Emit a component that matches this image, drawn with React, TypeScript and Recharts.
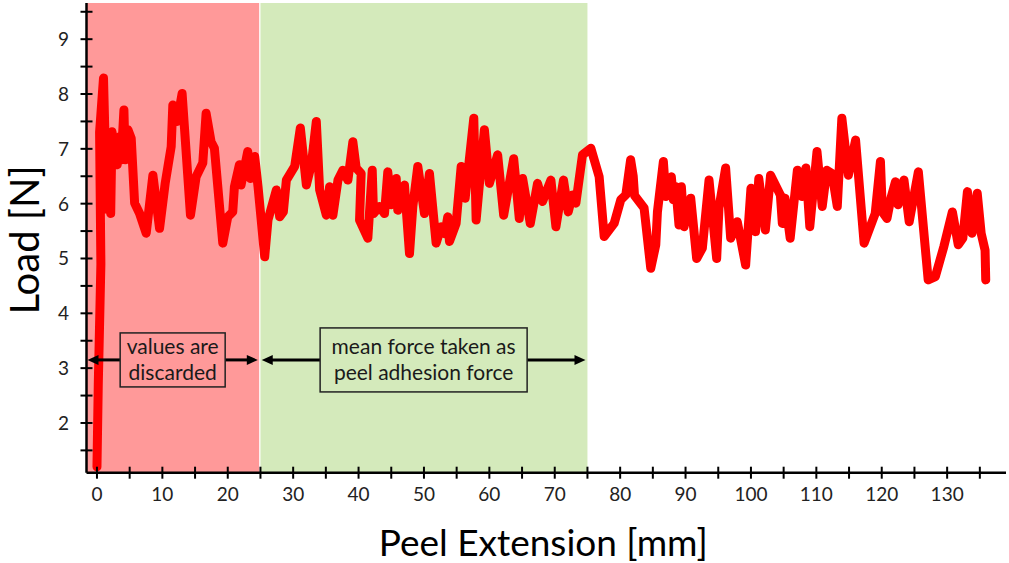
import React from 'react';
import { ComposedChart, Line, XAxis, YAxis, ReferenceArea, ReferenceLine } from 'recharts';

const extension: number[] = [
  0, 0.2, 0.6, 0.4, 1.0, 1.5, 1.9, 2.1, 2.3, 3.1, 3.46, 3.71, 4.12, 4.32, 4.73, 5.24, 5.76, 6.52, 7.53, 8.55,
  9.57, 10.43, 11.35, 11.6, 12.26, 13.02, 14.3, 15.16, 16.18, 16.69, 17.45, 17.96, 19.24, 20.0, 20.76, 21.02,
  21.78, 22.03, 23.05, 23.47, 24.12, 24.63, 25.65, 26.15, 27.43, 27.94, 28.5, 28.96, 30.23, 31.1, 32.02, 32.78,
  33.54, 34.05, 35.07, 35.57, 36.08, 36.85, 37.6, 38.37, 39.13, 39.64, 40.4, 40.15, 41.42, 42.09, 42.29, 43.2,
  43.97, 44.47, 44.99, 45.76, 46.0, 47.02, 47.79, 48.3, 49.06, 50.08, 50.84, 51.86, 52.63, 53.2, 53.64, 53.9,
  54.92, 55.69, 56.3, 57.62, 57.98, 59.24, 60.0, 61.27, 62.19, 63.72, 64.58, 65.09, 66.26, 67.37, 68.14, 69.41,
  70.18, 71.34, 72.06, 72.72, 73.23, 74.24, 75.52, 76.79, 77.56, 79.08, 80.1, 80.87, 81.6, 82.0, 82.2, 83.66,
  84.68, 85.45, 85.7, 86.61, 86.98, 87.83, 88.14, 88.5, 89.0, 89.36, 89.77, 90.79, 91.7, 92.57, 93.59, 94.76,
  95.11, 96.13, 96.9, 97.91, 99.19, 100.0, 100.7, 101.2, 102.2, 103.0, 104.5, 104.8, 105.2, 106.0, 107.1, 107.8,
  108.4, 109.0, 110.1, 110.9, 111.6, 112.4, 113.2, 113.9, 114.9, 116.0, 117.3, 119.0, 119.8, 120.1, 120.8, 121.4,
  122.1, 122.5, 123.4, 124.2, 125.6, 127.1, 128.2, 129.5, 130.8, 131.7, 132.4, 133.1, 133.8, 134.6, 135.2, 135.8,
  135.9,
];

const load: number[] = [
  1.2, 2.7, 4.9, 7.3, 8.29, 5.9, 7.25, 5.82, 7.31, 6.71, 7.22, 6.8, 7.71, 6.8, 7.35, 7.19, 6.01, 5.82, 5.46, 6.52,
  5.55, 6.37, 7.04, 7.8, 7.5, 8.01, 5.79, 6.49, 6.74, 7.65, 7.13, 7.01, 5.28, 5.76, 5.85, 6.31,
  6.71, 6.34, 6.95, 6.46, 6.86, 6.31, 5.03, 5.7, 6.25, 5.76, 5.85, 6.43, 6.68, 7.38, 6.34, 6.71,
  7.5, 6.25, 5.79, 6.31, 5.79, 6.43, 6.61, 6.43, 7.13, 6.65, 6.55, 5.7, 5.37, 6.61, 5.82, 5.95,
  5.82, 6.58, 5.98, 6.46, 5.88, 6.34, 5.09, 5.95, 6.68, 5.82, 6.55, 5.28, 5.58, 5.45, 5.76, 5.31,
  5.64, 6.68, 6.1, 7.56, 5.7, 7.35, 6.37, 6.89, 5.79, 6.82, 5.73, 6.46, 5.64, 6.37, 6.04, 6.43,
  5.58, 6.43, 5.85, 6.16, 6.01, 6.89, 7.01, 6.49, 5.4, 5.64, 6.07, 6.16, 6.8, 6.5, 6.15, 5.92,
  4.82, 5.25, 5.85, 6.77, 6.13, 6.49, 6.07, 6.31, 5.61, 6.31, 5.58, 6.1, 5.0, 5.19, 6.43, 5.0,
  5.92, 6.65, 5.37, 5.67, 4.88, 6.28, 5.49, 6.46, 5.52, 6.52, 6.16, 5.64, 6.1, 5.37, 6.61, 6.13,
  6.65, 5.58, 6.95, 5.95, 6.61, 6.55, 5.95, 7.56, 6.52, 7.16, 5.28, 5.82, 6.77, 5.85, 5.73, 6.1,
  6.4, 5.98, 6.43, 5.67, 6.58, 4.61, 4.67, 5.22, 5.85, 5.25, 5.37, 6.22, 5.46, 6.19, 5.46, 5.15,
  4.61,
];

const xTicks: number[] = [0, 5, 10, 15, 20, 25, 30, 35, 40, 45, 50, 55, 60, 65, 70, 75, 80, 85, 90, 95, 100, 105, 110, 115, 120, 125, 130, 135];
const yTicks: number[] = [1.5, 2, 2.5, 3, 3.5, 4, 4.5, 5, 5.5, 6, 6.5, 7, 7.5, 8, 8.5, 9, 9.5];

const xDomain: [number, number] = [-1.6, 139.0];
const yDomain: [number, number] = [1.093, 9.66];

const discardRange: [number, number] = [-1.6, 24.8];
const meanRange: [number, number] = [25, 75];
const arrowLoad = 3.15;
const discardLabel = ['values are', 'discarded'];
const meanLabel = ['mean force taken as', 'peel adhesion force'];

const data = extension.map((x, i) => ({ x, y: load[i] }));

const FONT = 'Lato, "Open Sans", sans-serif';
const RED_BG = '#FF9999';
const GREEN_BG = '#D4EABB';

const XTick = (props: any) => {
  const { x, y, payload } = props;
  const ay = y - 15;
  const major = payload.value % 10 === 0;
  return (
    <g>
      <line x1={x} x2={x} y1={ay - 6} y2={ay + 6} stroke="#000" strokeWidth={2} />
      {major && (
        <text x={x} y={y} dy="0.71em" textAnchor="middle" fontFamily={FONT} fontSize={19} fill="#222">
          {payload.value}
        </text>
      )}
    </g>
  );
};

const YTick = (props: any) => {
  const { x, y, payload } = props;
  const ax = x + 17.5;
  const major = Number.isInteger(payload.value);
  return (
    <g>
      <line x1={ax - 6} x2={ax + 6} y1={y} y2={y} stroke="#000" strokeWidth={2} />
      {major && (
        <text x={x} y={y} dy="0.36em" textAnchor="end" fontFamily={FONT} fontSize={19} fill="#222">
          {payload.value}
        </text>
      )}
    </g>
  );
};

const makeArrowShape = (lines: string[], boxW: number, boxH: number, fill: string) => (props: any) => {
  const { x1, x2, y1 } = props;
  const y = y1;
  const cx = (x1 + x2) / 2;
  const bl = cx - boxW / 2;
  const br = cx + boxW / 2;
  const ah = 11;
  const aw = 5;
  return (
    <g>
      <line x1={x1 + ah - 1} x2={bl} y1={y} y2={y} stroke="#000" strokeWidth={3} />
      <line x1={br} x2={x2 - ah + 1} y1={y} y2={y} stroke="#000" strokeWidth={3} />
      <polygon points={`${x1},${y} ${x1 + ah},${y - aw} ${x1 + ah},${y + aw}`} fill="#000" />
      <polygon points={`${x2},${y} ${x2 - ah},${y - aw} ${x2 - ah},${y + aw}`} fill="#000" />
      <rect x={bl} y={y - boxH / 2} width={boxW} height={boxH} fill={fill} stroke="#222" strokeWidth={1.5} />
      <text x={cx} y={y - 13} dy="0.35em" textAnchor="middle" fontFamily={FONT} fontSize={21} fill="#1a1a1a">
        {lines[0]}
      </text>
      <text x={cx} y={y + 13} dy="0.35em" textAnchor="middle" fontFamily={FONT} fontSize={21} fill="#1a1a1a">
        {lines[1]}
      </text>
    </g>
  );
};

const XTitle = (props: any) => {
  const vb = props.viewBox || { x: 86.5, y: 472.7, width: 919.5, height: 40 };
  return (
    <text x={vb.x + vb.width / 2 - 3} y={556} textAnchor="middle" fontFamily={FONT} fontSize={37} fill="#000">
      Peel Extension [mm]
    </text>
  );
};

const YTitle = (props: any) => {
  const vb = props.viewBox || { x: 26.5, y: 3, width: 60, height: 469.7 };
  const cy = vb.y + vb.height / 2 + 2;
  const cx = 25;
  return (
    <text x={cx} y={cy} dy="0.35em" textAnchor="middle" transform={`rotate(-90, ${cx}, ${cy})`} fontFamily={FONT} fontSize={40} fill="#000">
      Load [N]
    </text>
  );
};

export default function App() {
  return (
    <div style={{ position: 'absolute', left: 0, top: 0, width: 1009, height: 563, background: '#fff' }}>
      <ComposedChart
        width={1009}
        height={563}
        data={data}
        margin={{ top: 3, right: 3, left: 26.5, bottom: 50.3 }}
      >
        <XAxis
          dataKey="x"
          type="number"
          domain={xDomain}
          ticks={xTicks}
          interval={0}
          allowDataOverflow
          tick={<XTick />}
          tickLine={false}
          tickSize={6}
          tickMargin={9}
          axisLine={{ stroke: '#000', strokeWidth: 2.5 }}
          height={40}
          label={{ content: (p: any) => <XTitle {...p} /> }}
        />
        <YAxis
          type="number"
          domain={yDomain}
          ticks={yTicks}
          interval={0}
          allowDataOverflow
          tick={<YTick />}
          tickLine={false}
          tickSize={6}
          tickMargin={11.5}
          axisLine={{ stroke: '#000', strokeWidth: 2.5 }}
          width={60}
          label={{ content: (p: any) => <YTitle {...p} /> }}
        />
        <ReferenceArea x1={discardRange[0]} x2={discardRange[1]} fill={RED_BG} fillOpacity={1} stroke="none" ifOverflow="visible" />
        <ReferenceArea x1={meanRange[0]} x2={meanRange[1]} fill={GREEN_BG} fillOpacity={1} stroke="none" ifOverflow="visible" />
        <Line
          type="linear"
          dataKey="y"
          stroke="#FF0000"
          strokeWidth={9}
          strokeLinejoin="round"
          strokeLinecap="round"
          dot={false}
          activeDot={false}
          isAnimationActive={false}
        />
        <ReferenceArea fill="none" stroke="#000" strokeWidth={2.5} ifOverflow="visible" />
        <ReferenceLine
          segment={[{ x: -1.45, y: arrowLoad }, { x: 24.6, y: arrowLoad }]}
          ifOverflow="visible"
          shape={makeArrowShape(discardLabel, 105, 54, RED_BG)}
        />
        <ReferenceLine
          segment={[{ x: 25.2, y: arrowLoad }, { x: 74.7, y: arrowLoad }]}
          ifOverflow="visible"
          shape={makeArrowShape(meanLabel, 207, 64, GREEN_BG)}
        />
      </ComposedChart>
    </div>
  );
}
